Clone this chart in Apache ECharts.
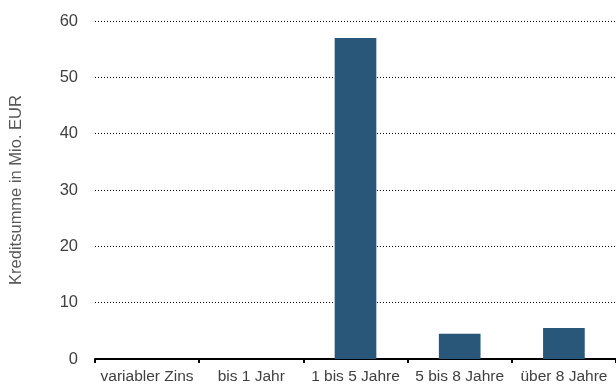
<!DOCTYPE html>
<html>
<head>
<meta charset="utf-8">
<script src="https://cdn.jsdelivr.net/npm/echarts@6/dist/echarts.min.js"></script>
<style>
  html, body { margin: 0; padding: 0; background: #ffffff; }
  #chart { width: 616px; height: 390px; }
</style>
</head>
<body>
<div id="chart"></div>
<script>
// Zinsbindung categories and loan sums (Mio. EUR)
const categories = ['variabler Zins', 'bis 1 Jahr', '1 bis 5 Jahre', '5 bis 8 Jahre', 'über 8 Jahre'];
const kreditsumme = [0, 0, 57, 4.5, 5.5];
const yTicks = [0, 10, 20, 30, 40, 50, 60];

const chart = echarts.init(document.getElementById('chart'), null, { renderer: 'canvas' });

chart.setOption({
  animation: false,
  textStyle: { fontFamily: 'Liberation Sans, Arial, sans-serif' },
  grid: { left: 91, top: 21, bottom: 31, right: -3, containLabel: false },
  xAxis: {
    type: 'category',
    data: categories,
    axisLine: { show: true, lineStyle: { color: '#000000', width: 2 } },
    axisTick: { show: true, alignWithLabel: false, length: 4, lineStyle: { color: '#000000', width: 2 } },
    axisLabel: { color: '#404040', fontSize: 15.5, margin: 10, interval: 0 },
    splitLine: { show: false }
  },
  yAxis: {
    type: 'value',
    min: yTicks[0],
    max: yTicks[yTicks.length - 1],
    interval: 10,
    name: 'Kreditsumme in Mio. EUR',
    nameLocation: 'middle',
    nameGap: 70,
    nameTextStyle: { color: '#595959', fontSize: 16.5 },
    axisLine: { show: false },
    axisTick: { show: false },
    axisLabel: { color: '#404040', fontSize: 16.5, margin: 17 },
    splitLine: { show: true, lineStyle: { color: '#000000', width: 1, type: [1, 2] } }
  },
  series: [{
    type: 'bar',
    data: kreditsumme,
    barWidth: '40%',
    itemStyle: { color: '#29577A' }
  }]
});
</script>
</body>
</html>
